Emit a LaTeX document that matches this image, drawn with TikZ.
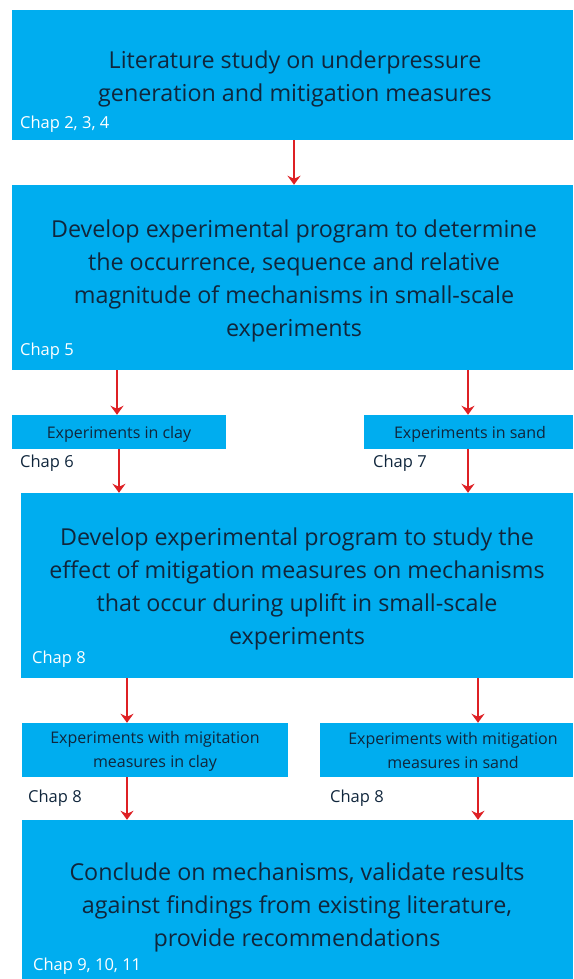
\documentclass[tikz,border=0pt]{standalone}
\usepackage{fontspec}
\setmainfont{Open Sans}
\usetikzlibrary{arrows.meta}
\definecolor{boxblue}{RGB}{0,173,239}
\definecolor{txt}{RGB}{16,38,60}
\definecolor{arrred}{RGB}{222,32,36}
\tikzset{
  box/.style={fill=boxblue, draw=none, inner sep=0pt, anchor=center},
  bigtxt/.style={text=txt, align=center, inner sep=0pt, font=\fontsize{23.3}{33}\selectfont},
  smalltxt/.style={text=txt, align=center, inner sep=0pt, font=\fontsize{16}{24}\selectfont},
  chapin/.style={text=white, anchor=west, inner sep=0pt, font=\fontsize{16.5}{18}\selectfont},
  chapout/.style={text=txt, anchor=west, inner sep=0pt, font=\fontsize{16.5}{18}\selectfont},
  arr/.style={draw=arrred, line width=2.3pt, -{Stealth[length=9pt,width=13pt,inset=3pt]}}
}
\begin{document}
\begin{tikzpicture}[x=1pt,y=1pt]
\useasboundingbox (0,0) rectangle (573,979);
% boxes
\node[box, minimum width=561pt, minimum height=130pt] (b1) at (292.5,904) {};
\node[box, minimum width=561pt, minimum height=185pt] (b2) at (292.5,701.5) {};
\node[box, minimum width=214pt, minimum height=34pt] (clay) at (119,547) {};
\node[box, minimum width=209pt, minimum height=34pt] (sand) at (468.5,547) {};
\node[box, minimum width=552pt, minimum height=185pt] (b3) at (297,393.5) {};
\node[box, minimum width=266pt, minimum height=54pt] (clay2) at (155,229) {};
\node[box, minimum width=253pt, minimum height=54pt] (sand2) at (446.5,229) {};
\node[box, minimum width=551pt, minimum height=159pt] (b4) at (297.5,79.5) {};
% texts
\node[bigtxt] (t1) at (295,900) {Literature study on underpressure\\generation and mitigation measures};
\node[bigtxt] (t2) at (294,698) {Develop experimental program to determine\\the occurrence, sequence and relative\\magnitude of mechanisms in small-scale\\experiments};
\node[smalltxt] (tc) at (119,545) {Experiments in clay};
\node[smalltxt] (ts) at (470,545) {Experiments in sand};
\node[bigtxt] (t3) at (297,390) {Develop experimental program to study the\\effect of mitigation measures on mechanisms\\that occur during uplift in small-scale\\experiments};
\node[smalltxt] (tc2) at (155,228) {Experiments with migitation\\measures in clay};
\node[smalltxt] (ts2) at (453,228) {Experiments with mitigation\\measures in sand};
\node[bigtxt] (t4) at (297,72) {Conclude on mechanisms, validate results\\against findings from existing literature,\\provide recommendations};
% chapter labels
\node[chapin] (c1) at (20,855) {Chap 2, 3, 4};
\node[chapin] (c2) at (20,628) {Chap 5};
\node[chapout] (c6) at (20,516) {Chap 6};
\node[chapout] (c7) at (373,516) {Chap 7};
\node[chapin] (c3) at (32,320) {Chap 8};
\node[chapout] (c8a) at (28,181) {Chap 8};
\node[chapout] (c8b) at (330,181) {Chap 8};
\node[chapin] (c4) at (33,13) {Chap 9, 10, 11};
% arrow columns
\coordinate (x1) at (294,0);
\coordinate (x2) at (117,0);
\coordinate (x3) at (468,0);
\coordinate (x4) at (119,0);
\coordinate (x5) at (127,0);
\coordinate (x6) at (478,0);
% arrows
\draw[arr] (b1.south -| x1) -- (b2.north -| x1);
\draw[arr] (b2.south -| x2) -- (clay.north -| x2);
\draw[arr] (b2.south -| x3) -- (sand.north -| x3);
\draw[arr] (clay.south -| x4) -- (b3.north -| x4);
\draw[arr] (sand.south -| x3) -- (b3.north -| x3);
\draw[arr] (b3.south -| x5) -- (clay2.north -| x5);
\draw[arr] (b3.south -| x6) -- (sand2.north -| x6);
\draw[arr] (clay2.south -| x5) -- (b4.north -| x5);
\draw[arr] (sand2.south -| x6) -- (b4.north -| x6);
\end{tikzpicture}
\end{document}
